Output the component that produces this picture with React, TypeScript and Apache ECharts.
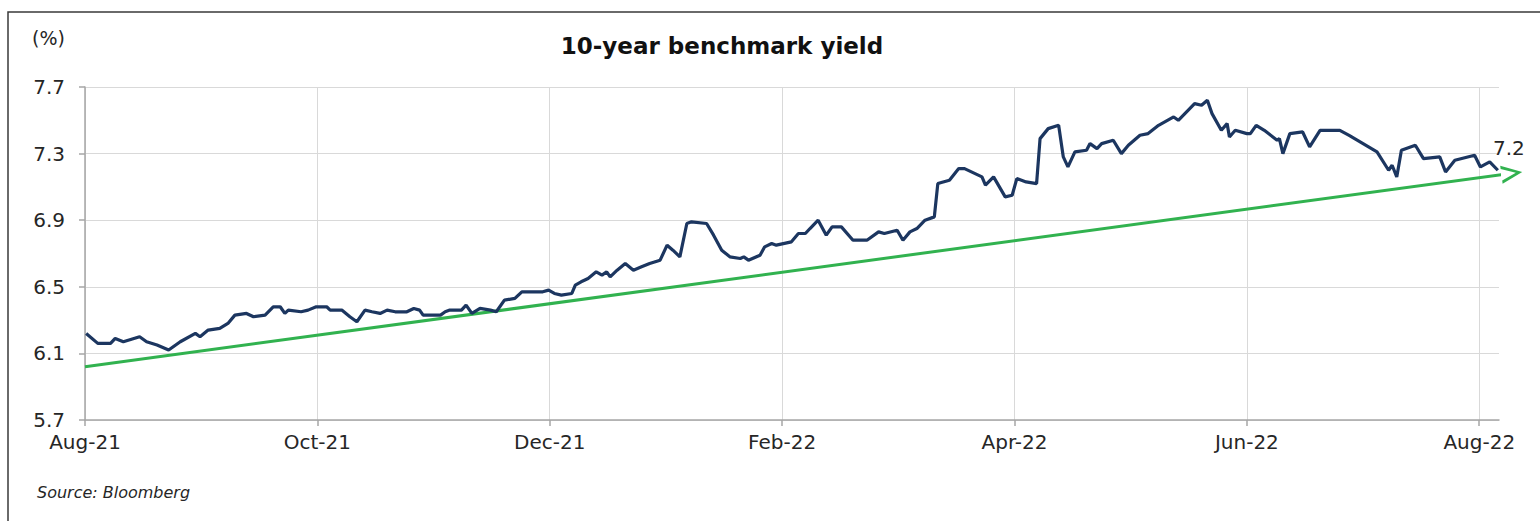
import React, { useEffect, useRef } from 'react';
import * as echarts from 'echarts';

// x positions are months elapsed since 1 Aug 2021
const xTickMonths = [0, 2, 4, 6, 8, 10, 12];
const xTickLabels = ['Aug-21', 'Oct-21', 'Dec-21', 'Feb-22', 'Apr-22', 'Jun-22', 'Aug-22'];
const xMax = 12.17;

const yMin = 5.7;
const yMax = 7.7;
const yStep = 0.4;

const monthsSinceAug21 = [
  0.01, 0.11, 0.22, 0.26, 0.33, 0.47, 0.53, 0.62, 0.72, 0.82, 0.95, 0.99, 1.06, 1.16, 1.23, 1.29,
  1.39, 1.45, 1.55, 1.62, 1.68, 1.72, 1.75, 1.86, 1.92, 1.99, 2.08, 2.11, 2.21, 2.28, 2.34, 2.41,
  2.47, 2.54, 2.6, 2.67, 2.77, 2.83, 2.88, 2.91, 3.0, 3.06, 3.1, 3.14, 3.17, 3.24, 3.28, 3.33,
  3.4, 3.49, 3.54, 3.61, 3.7, 3.76, 3.94, 3.99, 4.04, 4.1, 4.19, 4.22, 4.27, 4.33, 4.4, 4.45,
  4.49, 4.52, 4.58, 4.65, 4.72, 4.79, 4.86, 4.95, 5.01, 5.06, 5.12, 5.18, 5.22, 5.35, 5.41, 5.48,
  5.55, 5.64, 5.67, 5.71, 5.81, 5.85, 5.91, 5.95, 6.08, 6.14, 6.2, 6.24, 6.31, 6.38, 6.43, 6.51,
  6.61, 6.73, 6.83, 6.88, 6.99, 7.04, 7.1, 7.16, 7.23, 7.31, 7.34, 7.44, 7.52, 7.57, 7.72, 7.75,
  7.82, 7.92, 7.98, 8.02, 8.1, 8.19, 8.22, 8.29, 8.38, 8.42, 8.46, 8.52, 8.62, 8.65, 8.71, 8.75,
  8.85, 8.92, 8.98, 9.08, 9.15, 9.24, 9.37, 9.41, 9.55, 9.61, 9.66, 9.7, 9.78, 9.83, 9.85, 9.9,
  10.0, 10.03, 10.08, 10.15, 10.26, 10.28, 10.31, 10.37, 10.48, 10.54, 10.63, 10.8, 10.88, 11.0, 11.12, 11.22,
  11.25, 11.29, 11.33, 11.45, 11.52, 11.66, 11.71, 11.79, 11.96, 12.01, 12.09, 12.16,
];

const yield10y = [
  6.22, 6.16, 6.16, 6.19, 6.17, 6.2, 6.17, 6.15, 6.12, 6.17, 6.22, 6.2, 6.24, 6.25, 6.28, 6.33,
  6.34, 6.32, 6.33, 6.38, 6.38, 6.34, 6.36, 6.35, 6.36, 6.38, 6.38, 6.36, 6.36, 6.32, 6.29, 6.36,
  6.35, 6.34, 6.36, 6.35, 6.35, 6.37, 6.36, 6.33, 6.33, 6.33, 6.35, 6.36, 6.36, 6.36, 6.39, 6.34,
  6.37, 6.36, 6.35, 6.42, 6.43, 6.47, 6.47, 6.48, 6.46, 6.45, 6.46, 6.51, 6.53, 6.55, 6.59, 6.57,
  6.59, 6.56, 6.6, 6.64, 6.6, 6.62, 6.64, 6.66, 6.75, 6.72, 6.68, 6.88, 6.89, 6.88, 6.81, 6.72,
  6.68, 6.67, 6.68, 6.66, 6.69, 6.74, 6.76, 6.75, 6.77, 6.82, 6.82, 6.85, 6.9, 6.81, 6.86, 6.86,
  6.78, 6.78, 6.83, 6.82, 6.84, 6.78, 6.83, 6.85, 6.9, 6.92, 7.12, 7.14, 7.21, 7.21, 7.16, 7.11,
  7.16, 7.04, 7.05, 7.15, 7.13, 7.12, 7.39, 7.45, 7.47, 7.28, 7.22, 7.31, 7.32, 7.36, 7.33, 7.36,
  7.38, 7.3, 7.35, 7.41, 7.42, 7.47, 7.52, 7.5, 7.6, 7.59, 7.62, 7.54, 7.44, 7.48, 7.4, 7.44,
  7.42, 7.42, 7.47, 7.44, 7.38, 7.39, 7.3, 7.42, 7.43, 7.34, 7.44, 7.44, 7.41, 7.36, 7.31, 7.2,
  7.23, 7.16, 7.32, 7.35, 7.27, 7.28, 7.19, 7.26, 7.29, 7.22, 7.25, 7.2,
];

const trendMonths = [0, 12.37];
const trendValues = [6.02, 7.19];

const NAVY = '#1c3660';
const GREEN = '#31b24f';
const FONT = 'DejaVu Sans';
const CHEVRON = 'path://M0,0 L21,9 L0,18 L0,14.8 L14.5,9 L0,3.2 Z';
const CHEVRON_W = 21;
const CHEVRON_H = 18;

export default function App() {
  const ref = useRef<HTMLDivElement>(null);

  useEffect(() => {
    if (!ref.current) return;
    const chart = echarts.init(ref.current, null, { renderer: 'svg' });
    const shift = (v: number) => v - yMin;
    const last = monthsSinceAug21.length - 1;

    const lineData = monthsSinceAug21.map((m, i) =>
      i === last
        ? {
            value: [m, shift(yield10y[i])],
            symbol: 'circle',
            symbolSize: 0,
            label: {
              show: true,
              position: 'inside',
              offset: [11, -22],
              formatter: () => yield10y[i].toFixed(1),
              color: '#262626',
              fontSize: 20,
              fontFamily: FONT,
            },
          }
        : { value: [m, shift(yield10y[i])] }
    );

    const trendData = (rot: number, off: number[]) => [
      { value: [trendMonths[0], shift(trendValues[0])], symbol: 'none' },
      {
        value: [trendMonths[1], shift(trendValues[1])],
        symbol: CHEVRON,
        symbolSize: [CHEVRON_W, CHEVRON_H],
        symbolRotate: rot,
        symbolOffset: off,
      },
    ];

    const option: any = {
      animation: false,
      textStyle: { fontFamily: FONT },
      grid: { left: 85, right: 41, top: 87, bottom: 101, containLabel: false, outerBoundsMode: 'none' },
      xAxis: {
        type: 'value',
        min: 0,
        max: xMax,
        axisLine: { show: true, lineStyle: { color: '#a6a6a6', width: 1.5 } },
        axisTick: { show: true, length: 6, customValues: xTickMonths, lineStyle: { color: '#a6a6a6', width: 1.5 } },
        axisLabel: {
          customValues: xTickMonths,
          margin: 12,
          fontSize: 20,
          color: '#262626',
          fontFamily: FONT,
          formatter: (v: number) => {
            const k = xTickMonths.findIndex((t) => Math.abs(t - v) < 1e-6);
            return k >= 0 ? xTickLabels[k] : '';
          },
        },
        splitLine: { show: true, lineStyle: { color: '#d9d9d9', width: 1 } },
      },
      yAxis: {
        type: 'value',
        min: 0,
        max: yMax - yMin,
        interval: yStep,
        axisLine: { show: true, lineStyle: { color: '#a6a6a6', width: 1.5 } },
        axisTick: { show: true, length: 6, lineStyle: { color: '#a6a6a6', width: 1.5 } },
        axisLabel: {
          margin: 20,
          fontSize: 20,
          color: '#262626',
          fontFamily: FONT,
          formatter: (v: number) => (v + yMin).toFixed(1),
        },
        splitLine: { show: true, lineStyle: { color: '#d9d9d9', width: 1 } },
      },
      series: [
        {
          id: 'trend',
          type: 'line',
          data: trendData(0, [-CHEVRON_W / 2, 0]),
          clip: false,
          showSymbol: true,
          lineStyle: { color: GREEN, width: 3 },
          itemStyle: { color: GREEN },
          z: 2,
          silent: true,
        },
        {
          id: 'yield',
          type: 'line',
          data: lineData,
          symbol: 'none',
          showSymbol: true,
          lineStyle: { color: NAVY, width: 3.2 },
          itemStyle: { color: NAVY },
          z: 3,
          silent: true,
        },
      ],
      graphic: [
        {
          type: 'rect',
          shape: { x: 8, y: 12, width: 1700, height: 700 },
          style: { fill: 'none', stroke: '#3a3a3a', lineWidth: 1.5 },
          silent: true,
        },
        {
          type: 'text',
          x: 722,
          y: 46,
          style: {
            text: '10-year benchmark yield',
            fontFamily: FONT,
            fontWeight: 'bold',
            fontSize: 23,
            fill: '#111',
            textAlign: 'center',
            textVerticalAlign: 'middle',
          },
        },
        {
          type: 'text',
          x: 32,
          y: 38,
          style: { text: '(%)', fontFamily: FONT, fontSize: 19, fill: '#262626', textAlign: 'left', textVerticalAlign: 'middle' },
        },
        {
          type: 'text',
          x: 37,
          y: 492,
          style: {
            text: 'Source: Bloomberg',
            fontFamily: FONT,
            fontStyle: 'italic',
            fontSize: 16,
            fill: '#262626',
            textAlign: 'left',
            textVerticalAlign: 'middle',
          },
        },
      ],
    };

    chart.setOption(option);

    const p0 = chart.convertToPixel({ gridIndex: 0 }, [trendMonths[0], shift(trendValues[0])]) as number[];
    const p1 = chart.convertToPixel({ gridIndex: 0 }, [trendMonths[1], shift(trendValues[1])]) as number[];
    const ang = Math.atan2(p0[1] - p1[1], p1[0] - p0[0]);
    const rotDeg = (ang * 180) / Math.PI;
    const half = CHEVRON_W / 2;
    const off = [-half * Math.cos(ang), half * Math.sin(ang)];
    chart.setOption({ series: [{ id: 'trend', data: trendData(rotDeg, off) }] });

    return () => chart.dispose();
  }, []);

  return <div ref={ref} style={{ position: 'absolute', left: 0, top: 0, width: 1540, height: 521 }} />;
}
